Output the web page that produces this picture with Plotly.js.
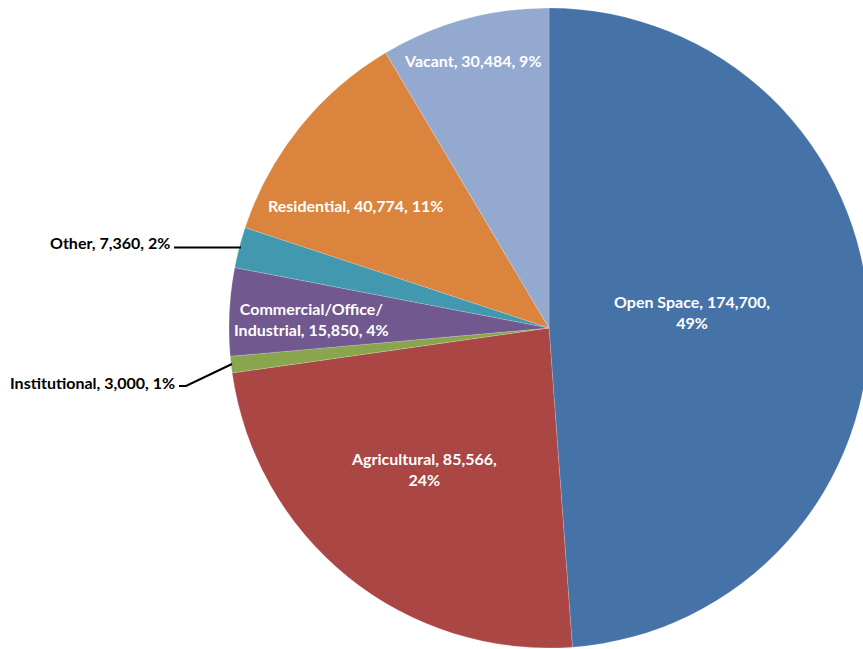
<!DOCTYPE html>
<html>
<head>
<meta charset="utf-8">
<script src="https://cdn.plot.ly/plotly-3.0.1.min.js"></script>
<style>
  html, body { margin: 0; padding: 0; background: #ffffff; overflow: hidden; }
  #chart { width: 870px; height: 649px; }
</style>
</head>
<body>
<div id="chart"></div>
<script>
// ---- data ----
const categories = ['Open Space', 'Agricultural', 'Institutional', 'Commercial/Office/Industrial', 'Other', 'Residential', 'Vacant'];
const values = [174700, 85566, 3000, 15850, 7360, 40774, 30484];
const colors = ['#4572A7', '#AA4643', '#89A54E', '#71588F', '#4198AF', '#DB843D', '#93A9CF'];

// ---- layout helpers (pixel -> paper) ----
const W = 870, H = 649;
const px = x => x / W;
const py = y => 1 - y / H;

const total = values.reduce((a, b) => a + b, 0);
const fmt = v => v.toLocaleString('en-US');
const pct = v => Math.round(v / total * 100) + '%';

// label placement (pixel positions of label centres / anchors) and line breaks
const labelSpec = [
  { x: 692, y: 312, inside: true, text: (c, v, p) => `${c}, ${v},<br>${p}` },
  { x: 424, y: 469, inside: true, text: (c, v, p) => `${c}, ${v},<br>${p}` },
  { x: 177, y: 382, inside: false, text: (c, v, p) => `${c}, ${v}, ${p}` },
  { x: 311, y: 319, inside: true, text: (c, v, p) => `Commercial/Office/<br>Industrial, ${v}, ${p}` },
  { x: 172, y: 243, inside: false, text: (c, v, p) => `${c}, ${v}, ${p}` },
  { x: 355, y: 205, inside: true, text: (c, v, p) => `${c}, ${v}, ${p}` },
  { x: 473, y: 61, inside: true, text: (c, v, p) => `${c}, ${v}, ${p}` }
];

const annotations = categories.map((c, i) => {
  const s = labelSpec[i];
  return {
    xref: 'paper', yref: 'paper',
    x: px(s.x), y: py(s.y),
    xanchor: s.inside ? 'center' : 'right',
    yanchor: 'middle',
    align: 'center',
    showarrow: false,
    text: s.text(c, fmt(values[i]), pct(values[i])),
    font: { family: 'Lato, "Open Sans", sans-serif', size: 16, color: s.inside ? '#ffffff' : '#000000', weight: 'bold' }
  };
});

const shapes = [
  // Other leader line
  { type: 'path', xref: 'paper', yref: 'paper',
    path: `M ${px(174)} ${py(247.5)} L ${px(241)} ${py(247.5)}`,
    line: { color: '#000000', width: 2 } },
  // Institutional leader line
  { type: 'path', xref: 'paper', yref: 'paper',
    path: `M ${px(179)} ${py(386)} L ${px(186)} ${py(386)} L ${px(232)} ${py(364)}`,
    line: { color: '#000000', width: 2 } }
];

const trace = {
  type: 'pie',
  labels: categories,
  values: values,
  sort: false,
  direction: 'clockwise',
  rotation: 0,
  textinfo: 'none',
  hoverinfo: 'label+value+percent',
  marker: { colors: colors, line: { color: 'rgba(255,255,255,0.35)', width: 0.5 } },
  domain: { x: [px(229), px(869)], y: [py(648), py(8)] },
  showlegend: false
};

const layout = {
  width: W, height: H,
  margin: { l: 0, r: 0, t: 0, b: 0 },
  paper_bgcolor: '#ffffff',
  plot_bgcolor: '#ffffff',
  showlegend: false,
  annotations: annotations,
  shapes: shapes
};

Plotly.newPlot('chart', [trace], layout, { displayModeBar: false, staticPlot: true });
</script>
</body>
</html>
